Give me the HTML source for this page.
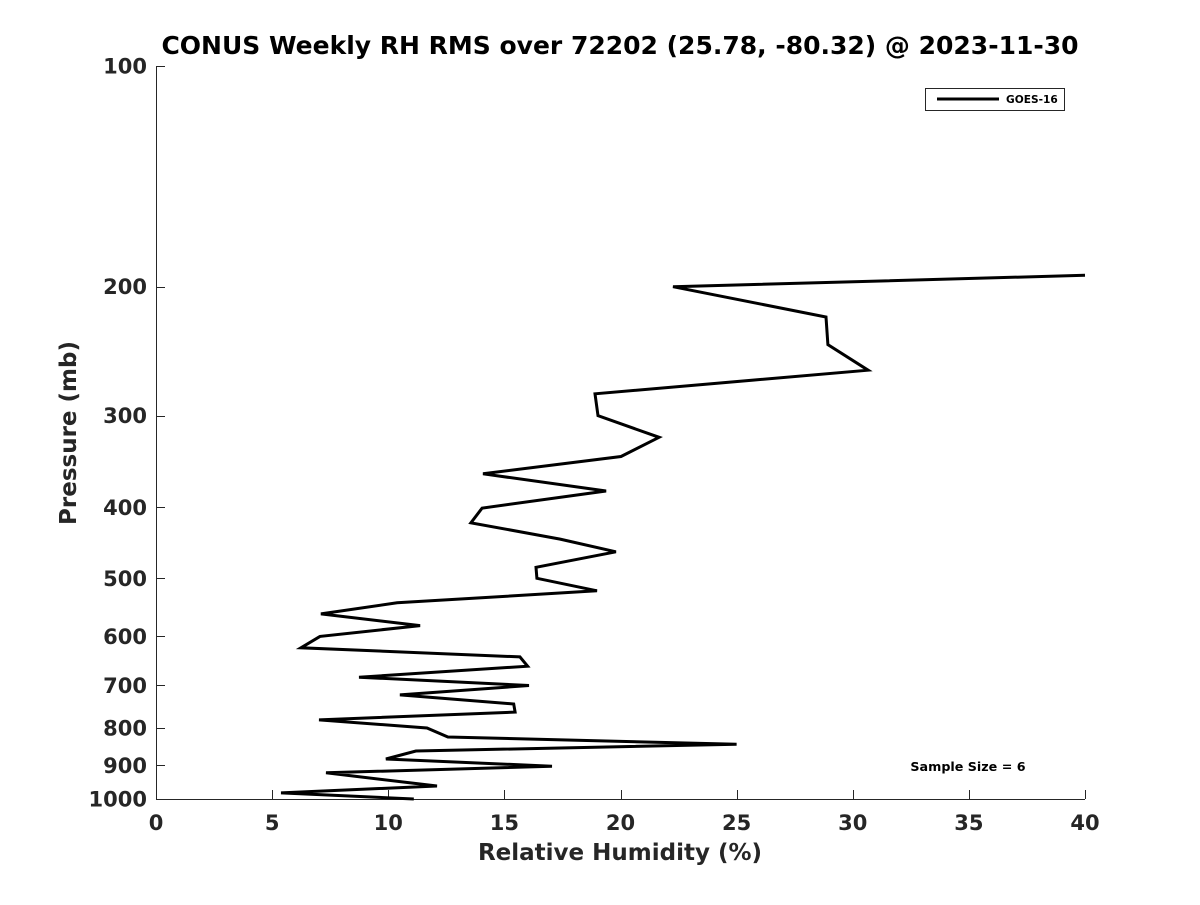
<!DOCTYPE html>
<html><head><meta charset="utf-8"><style>
body{margin:0;background:#fff;}
svg text{font-family:"DejaVu Sans","Liberation Sans",sans-serif;font-weight:bold;fill:#262626;}
</style></head><body>
<svg id="c" width="1200" height="900">
<text x="620" y="54" text-anchor="middle" font-size="25" style="fill:#000">CONUS Weekly RH RMS over 72202 (25.78, -80.32) @ 2023-11-30</text>
<text x="620" y="860" text-anchor="middle" font-size="23">Relative Humidity (%)</text>
<text transform="translate(76,433) rotate(-90)" text-anchor="middle" font-size="23">Pressure (mb)</text>
<g id="axes"></g>
<g>
<rect x="925.5" y="88.5" width="139" height="22" fill="#fff" stroke="#262626" stroke-width="1"/>
<line x1="937" y1="99" x2="999" y2="99" stroke="#000" stroke-width="3"/>
<text x="1006" y="103" font-size="10.6" style="fill:#000">GOES-16</text>
</g>
<text x="968" y="771" text-anchor="middle" font-size="12.7" style="fill:#000">Sample Size = 6</text>
</svg>
<script>
const rhValues=[40,22.26,28.85,28.93,30.66,18.9,19.03,21.66,20.02,14.08,19.38,14.04,13.56,17.4,19.8,16.36,16.4,18.99,10.38,7.1,11.37,7.06,6.24,15.67,16.0,8.74,16.06,10.5,15.4,15.46,7.02,11.67,12.57,25.0,11.19,9.9,17.05,7.32,12.1,5.38,11.1];
const pressures=[193,200,220,240,260,280,300,321,341,360,380,401,420,442,460,483,500,520,540,559,580,600,622,640,659,682,700,721,742,761,780,800,823,842,860,882,902,921,960,981,1000];
const xTicks=[0,5,10,15,20,25,30,35,40];
const yTicks=[100,200,300,400,500,600,700,800,900,1000];
const X0=156,X1=1085,Y0=66,Y1=799;
const xs=v=>X0+(v-0)/(40-0)*(X1-X0);
const ys=p=>Y0+(Math.log10(p)-2)/(3-2)*(Y1-Y0);
const NS="http://www.w3.org/2000/svg";
const svg=document.getElementById('c'),ax=document.getElementById('axes');
function mk(t,a,p){const e=document.createElementNS(NS,t);for(const k in a)e.setAttribute(k,a[k]);(p||ax).appendChild(e);return e;}
const xl=mk('line',{x1:X0,y1:Y1+0.5,x2:X1,y2:Y1+0.5,stroke:'#262626','stroke-width':1});


const yl=mk('line',{x1:X0+0.5,y1:Y0,x2:X0+0.5,y2:Y1,stroke:'#262626','stroke-width':1});


xTicks.forEach(v=>{
 const x=Math.round(xs(v))+0.5;
 mk('line',{x1:x,y1:Y1,x2:x,y2:Y1-9,stroke:'#262626'});
 const t=mk('text',{x:xs(v),y:Y1+31,'text-anchor':'middle','font-size':21});
 t.textContent=v;
 
 
});
yTicks.forEach(p=>{
 const y=Math.round(ys(p))+0.5;
 mk('line',{x1:X0,y1:y,x2:X0+9,y2:y,stroke:'#262626'});
 const t=mk('text',{x:X0-9,y:ys(p)+7.5,'text-anchor':'end','font-size':21});
 t.textContent=p;
 
 
});
const pts=rhValues.map((v,i)=>xs(v).toFixed(1)+','+ys(pressures[i]).toFixed(1)).join(' ');
const line=mk('polyline',{points:pts,fill:'none',stroke:'#000','stroke-width':3,'stroke-linejoin':'miter'},svg);


</script>
</body></html>
